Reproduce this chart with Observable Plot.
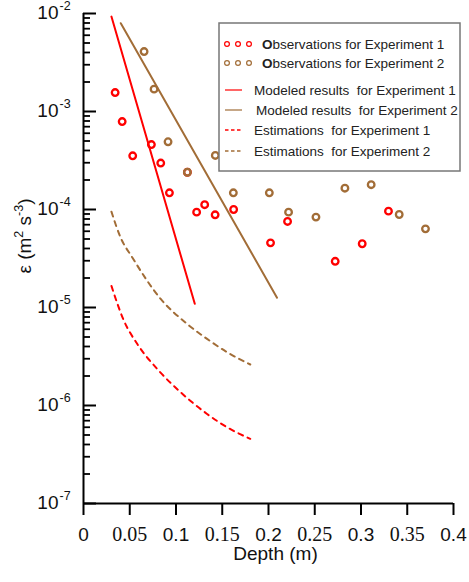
<!DOCTYPE html>
<html><head><meta charset="utf-8">
<script src="https://cdn.jsdelivr.net/npm/d3@7"></script>
<script src="https://cdn.jsdelivr.net/npm/@observablehq/plot@0.6"></script>
<style>body{margin:0;background:#fff}</style>
</head><body><div id="chart"></div>
<script>
// Observations
const obs1Depth = [0.0342, 0.0418, 0.0532, 0.0734, 0.0835, 0.0929, 0.1123, 0.1223, 0.131, 0.1423, 0.1623, 0.2022, 0.2206, 0.2721, 0.3013, 0.3297];
const obs1Eps   = [1.56e-3, 7.9e-4, 3.53e-4, 4.6e-4, 2.98e-4, 1.48e-4, 2.4e-4, 9.4e-5, 1.12e-4, 8.83e-5, 1.0e-4, 4.57e-5, 7.55e-5, 2.96e-5, 4.47e-5, 9.62e-5];
const obs2Depth = [0.0655, 0.0763, 0.0914, 0.1123, 0.1425, 0.162, 0.2009, 0.2217, 0.2513, 0.2826, 0.311, 0.3413, 0.3697];
const obs2Eps   = [4.09e-3, 1.69e-3, 4.91e-4, 2.40e-4, 3.56e-4, 1.48e-4, 1.48e-4, 9.4e-5, 8.36e-5, 1.65e-4, 1.79e-4, 8.89e-5, 6.35e-5];
// Modeled results
const model1Depth = [0.0302, 0.1203];
const model1Eps   = [9.3e-3, 1.09e-5];
const model2Depth = [0.0403, 0.2092];
const model2Eps   = [7.96e-3, 1.26e-5];
// Estimations
const est1Depth = [0.0302, 0.0436, 0.058, 0.0813, 0.1048, 0.1336, 0.1552, 0.1803];
const est1Eps   = [1.66e-5, 7.36e-6, 4.26e-6, 2.27e-6, 1.37e-6, 8.2e-7, 6.0e-7, 4.57e-7];
const est2Depth = [0.0302, 0.04, 0.0526, 0.0832, 0.112, 0.1336, 0.1552, 0.1803];
const est2Eps   = [9.5e-5, 5.2e-5, 3.26e-5, 1.23e-5, 6.8e-6, 4.78e-6, 3.5e-6, 2.62e-6];
// Ticks
const xTicks = [0, 0.05, 0.1, 0.15, 0.2, 0.25, 0.3, 0.35, 0.4];
const xTickLabels = ["0", "0.05", "0.1", "0.15", "0.2", "0.25", "0.3", "0.35", "0.4"];
const xTickSerif = [false, true, false, true, false, true, false, true, false];
const yMajor = [1e-7, 1e-6, 1e-5, 1e-4, 1e-3, 1e-2];
const yExponents = ["-7", "-6", "-5", "-4", "-3", "-2"];
const yMinorMultipliers = [2, 3, 4, 5, 6, 7, 8, 9];
const yMinor = yMajor.slice(0, -1).flatMap(d => yMinorMultipliers.map(m => d * m));
// Legend
const legendLabels = ["Observations for Experiment 1", "Observations for Experiment 2",
  "Modeled results  for Experiment 1", "Modeled results  for Experiment 2",
  "Estimations  for Experiment 1", "Estimations  for Experiment 2"];

const red = "#ff0000", brown = "#a26d37";
const rows = (xs, ys) => xs.map((x, i) => ({x, y: ys[i]}));
const sans = "'Liberation Sans', Arial, sans-serif";
const serif = "'Liberation Serif', 'Times New Roman', serif";

const W = 469, H = 582, mL = 83, mR = 16, mT = 13, mB = 79;
const frameW = W - mL - mR, frameH = H - mT - mB;

const plot = Plot.plot({
  width: W, height: H,
  marginLeft: mL, marginRight: mR, marginTop: mT, marginBottom: mB,
  style: {fontFamily: sans, background: "white", color: "#111", overflow: "visible"},
  x: {domain: [0, 0.4], axis: null},
  y: {type: "log", domain: [1e-7, 1e-2], axis: null},
  marks: [
    Plot.ruleX(xTicks, {x: d => d, insetTop: frameH, insetBottom: -12, stroke: "#000", strokeWidth: 2}),
    Plot.ruleY(yMajor, {y: d => d, insetRight: frameW - 13, stroke: "#000", strokeWidth: 2}),
    Plot.ruleY(yMinor, {y: d => d, insetRight: frameW - 7, stroke: "#000", strokeWidth: 1.8}),
    Plot.ruleX([0], {stroke: "#000", strokeWidth: 2}),
    Plot.ruleY([1e-7], {stroke: "#000", strokeWidth: 2}),
    Plot.text(yMajor, {y: d => d, frameAnchor: "left", text: () => "10", dx: -25, dy: -1, textAnchor: "end", fontSize: 19}),
    Plot.text(yMajor, {y: d => d, frameAnchor: "left", text: (d, i) => yExponents[i], dx: -24, dy: -8, textAnchor: "start", fontSize: 12.5}),
    Plot.text(xTicks.filter((d, i) => !xTickSerif[i]), {x: d => d, frameAnchor: "bottom", dy: 37, text: d => xTickLabels[xTicks.indexOf(d)], fontSize: 19, fontFamily: sans}),
    Plot.text(xTicks.filter((d, i) => xTickSerif[i]), {x: d => d, frameAnchor: "bottom", dy: 37, text: d => xTickLabels[xTicks.indexOf(d)], fontSize: 20, fontFamily: serif}),
    Plot.text(["Depth (m)"], {frameAnchor: "bottom", dx: 7, dy: 56, fontSize: 19}),
    Plot.line(rows(est1Depth, est1Eps), {x: "x", y: "y", stroke: red, strokeWidth: 2, strokeDasharray: "5,5", curve: "monotone-x"}),
    Plot.line(rows(est2Depth, est2Eps), {x: "x", y: "y", stroke: brown, strokeWidth: 2, strokeDasharray: "5,5", curve: "monotone-x"}),
    Plot.line(rows(model1Depth, model1Eps), {x: "x", y: "y", stroke: red, strokeWidth: 2}),
    Plot.line(rows(model2Depth, model2Eps), {x: "x", y: "y", stroke: brown, strokeWidth: 2}),
    Plot.dot(rows(obs1Depth, obs1Eps), {x: "x", y: "y", r: 3.3, stroke: red, strokeWidth: 2.3, fill: "none"}),
    Plot.dot(rows(obs2Depth, obs2Eps), {x: "x", y: "y", r: 3.3, stroke: brown, strokeWidth: 2.3, fill: "none"})
  ]
});
document.getElementById("chart").append(plot);

const svg = d3.select(plot);
// y axis title with superscripts
const yt = svg.append("text")
  .attr("transform", "translate(31,236) rotate(-90)")
  .attr("text-anchor", "middle")
  .attr("font-size", 19).attr("fill", "#111").attr("font-family", sans);
yt.append("tspan").text("ε (m");
yt.append("tspan").text("2").attr("font-size", 12.5).attr("dy", -8);
yt.append("tspan").text(" s").attr("dy", 8);
yt.append("tspan").text("-3").attr("font-size", 12.5).attr("dy", -8);
yt.append("tspan").text(")").attr("dy", 8);

// legend
const lg = svg.append("g").attr("font-family", sans).attr("font-size", 13.5).attr("fill", "#222")
  .attr("text-anchor", "start");
lg.append("rect").attr("x", 219).attr("y", 23).attr("width", 241).attr("height", 148)
  .attr("fill", "white").attr("stroke", "#777").attr("stroke-width", 1.5);
const rowY = [44, 63, 90, 110, 130, 151];
const colors = [red, brown, red, brown, red, brown];
rowY.forEach((y, i) => {
  if (i < 2) {
    [227, 238, 249].forEach(cx => lg.append("circle").attr("cx", cx).attr("cy", y).attr("r", 2.4)
      .attr("fill", "none").attr("stroke", colors[i]).attr("stroke-width", 1.2));
    const t = lg.append("text").attr("x", 262).attr("y", y).attr("dy", "0.35em").attr("text-anchor", "start");
    t.append("tspan").text(legendLabels[i][0]).attr("font-weight", "bold");
    t.append("tspan").text(legendLabels[i].slice(1));
  } else {
    lg.append("line").attr("x1", 225).attr("x2", 242).attr("y1", y).attr("y2", y)
      .attr("stroke", colors[i]).attr("stroke-width", 1.6).attr("opacity", i < 4 ? 0.75 : 1)
      .attr("stroke-dasharray", i >= 4 ? "3.5,2.5" : null);
    lg.append("text").attr("x", i === 3 ? 256 : 254).attr("y", y).attr("dy", "0.35em")
      .attr("text-anchor", "start").style("white-space", "pre").text(legendLabels[i]);
  }
});
</script>
</body></html>
